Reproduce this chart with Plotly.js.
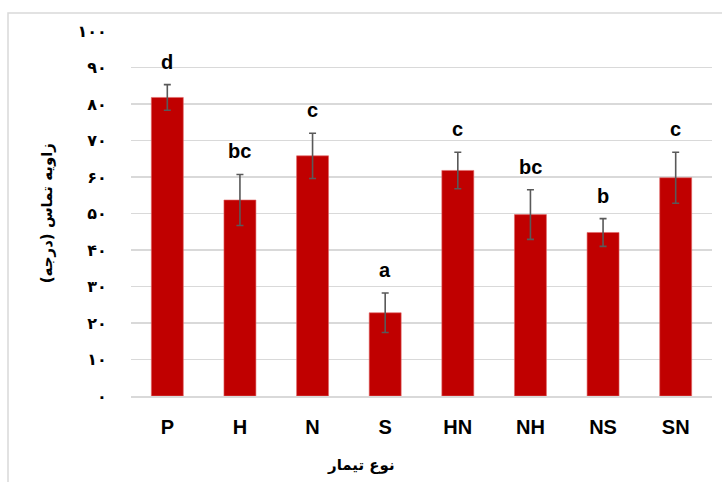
<!DOCTYPE html>
<html>
<head>
<meta charset="utf-8">
<script src="https://cdn.plot.ly/plotly-3.0.1.min.js"></script>
<style>
  html, body { margin: 0; padding: 0; background: #ffffff; }
  #chart { width: 722px; height: 482px; }
</style>
</head>
<body>
<div id="chart"></div>
<script>
// Treatments and mean contact angle (degrees) with standard error
const treatments = ['P', 'H', 'N', 'S', 'HN', 'NH', 'NS', 'SN'];
const contactAngle = [81.8, 53.7, 65.8, 22.8, 61.8, 49.7, 44.8, 59.8];
const errorValues = [3.5, 7.0, 6.2, 5.4, 5.0, 6.8, 3.8, 7.0];
const groupLetters = ['d', 'bc', 'c', 'a', 'c', 'bc', 'b', 'c'];

// Y ticks written with Persian digits
const yTickValues = [0, 10, 20, 30, 40, 50, 60, 70, 80, 90, 100];
const yTickText = ['۰', '۱۰', '۲۰', '۳۰', '۴۰', '۵۰', '۶۰', '۷۰', '۸۰', '۹۰', '۱۰۰'];

const xTitle = 'نوع تیمار';
const yTitle = 'زاویه تماس (درجه)';

const barTrace = {
  type: 'bar',
  x: treatments,
  y: contactAngle,
  marker: { color: '#C00000', line: { color: '#E06666', width: 0.6 } },
  error_y: { type: 'data', array: errorValues, visible: true, color: '#595959', thickness: 1.6, width: 3.5 },
  hoverinfo: 'none'
};

const letterNotes = treatments.map((t, i) => ({
  x: t,
  y: contactAngle[i] + errorValues[i],
  xref: 'x', yref: 'y',
  text: '<b>' + groupLetters[i] + '</b>',
  showarrow: false,
  yanchor: 'bottom',
  yshift: 10,
  font: { family: 'Liberation Sans, Arial, sans-serif', size: 20, color: '#000000' }
}));

const titleNotes = [
  {
    text: '<b>' + yTitle + '</b>',
    xref: 'paper', yref: 'paper',
    x: -0.145, y: 0.5,
    xanchor: 'center', yanchor: 'middle',
    textangle: -90,
    showarrow: false,
    font: { family: 'DejaVu Sans, sans-serif', size: 15, color: '#000000' }
  },
  {
    text: '<b>' + xTitle + '</b>',
    xref: 'paper', yref: 'paper',
    x: (361 - 131) / 581, y: -0.19,
    xanchor: 'center', yanchor: 'middle',
    showarrow: false,
    font: { family: 'DejaVu Sans, sans-serif', size: 15, color: '#000000' }
  }
];

const layout = {
  width: 722,
  height: 482,
  margin: { l: 131, r: 10, t: 31, b: 86 },
  paper_bgcolor: '#ffffff',
  plot_bgcolor: '#ffffff',
  showlegend: false,
  bargap: 0.56,
  xaxis: {
    type: 'category',
    showgrid: false,
    showline: true,
    linecolor: '#d9d9d9',
    linewidth: 1.5,
    ticks: 'outside',
    ticklen: 12,
    tickcolor: 'rgba(0,0,0,0)',
    tickfont: { family: 'Liberation Sans, Arial, sans-serif', size: 20, color: '#000000', weight: 'bold' },
    fixedrange: true
  },
  yaxis: {
    range: [0, 100],
    tickvals: yTickValues,
    ticktext: yTickText,
    showgrid: true,
    gridcolor: '#d9d9d9',
    gridwidth: 1.3,
    zeroline: false,
    showline: false,
    ticks: 'outside',
    ticklen: 20,
    tickcolor: 'rgba(0,0,0,0)',
    tickfont: { family: 'DejaVu Sans, sans-serif', size: 16, color: '#000000', weight: 'bold' },
    fixedrange: true
  },
  shapes: [
    {
      type: 'rect', xref: 'paper', yref: 'paper',
      x0: (8 - 131) / 581, x1: (740 - 131) / 581,
      y0: (86 - 500) / 365, y1: (482 - 13 - 86) / 365,
      line: { color: '#d9d9d9', width: 1.5 },
      fillcolor: 'rgba(0,0,0,0)',
      layer: 'below'
    }
  ],
  annotations: letterNotes.concat(titleNotes)
};

Plotly.newPlot('chart', [barTrace], layout, { displayModeBar: false, staticPlot: true });
</script>
</body>
</html>
